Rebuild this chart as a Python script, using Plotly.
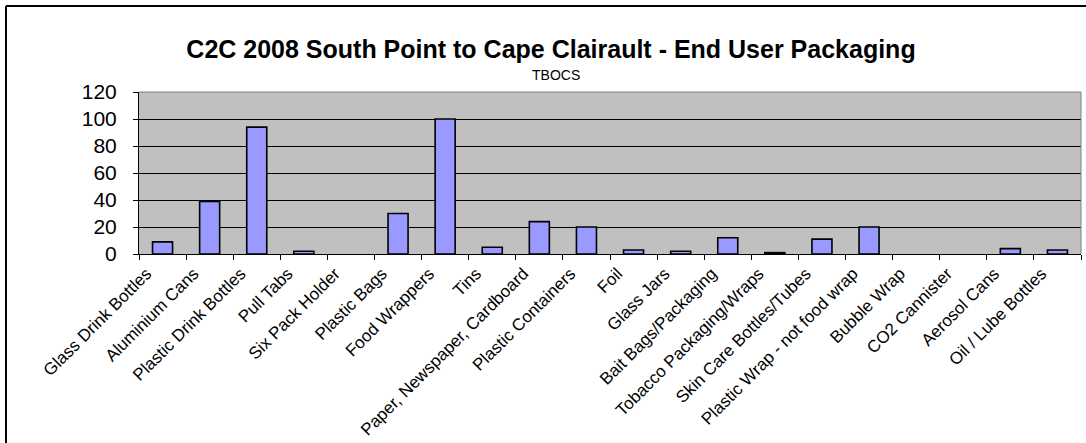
import plotly.graph_objects as go

categories = [
    "Glass Drink Bottles", "Aluminium Cans", "Plastic Drink Bottles", "Pull Tabs",
    "Six Pack Holder", "Plastic Bags", "Food Wrappers", "Tins",
    "Paper, Newspaper, Cardboard", "Plastic Containers", "Foil", "Glass Jars",
    "Bait Bags/Packaging", "Tobacco Packaging/Wraps", "Skin Care Bottles/Tubes",
    "Plastic Wrap - not food wrap", "Bubble Wrap", "CO2 Cannister", "Aerosol Cans",
    "Oil / Lube Bottles",
]
values = [9, 39, 94, 2, 0, 30, 100, 5, 24, 20, 3, 2, 12, 1, 11, 20, 0, 0, 4, 3]

y_ticks = [0, 20, 40, 60, 80, 100, 120]

title_text = "C2C 2008 South Point to Cape Clairault - End User Packaging"
subtitle_text = "TBOCS"

W, H = 1086, 443
L, R, T, B = 139, 5, 92, 189
pw, ph = W - L - R, H - T - B

def px_x(x):
    return (x - L) / pw

def px_y(y):
    return (H - B - y) / ph

FONT = "Liberation Sans, Arial, sans-serif"

# no outline for empty (zero) bars, as in the original
outline_widths = [0 if v == 0 else 1.6 for v in values]

fig = go.Figure(
    go.Bar(
        x=categories,
        y=values,
        marker=dict(color="#9999FF", line=dict(color="black", width=outline_widths)),
        hoverinfo="x+y",
    )
)

fig.update_layout(
    width=W,
    height=H,
    margin=dict(l=L, r=R, t=T, b=B, autoexpand=False),
    paper_bgcolor="white",
    plot_bgcolor="#C0C0C0",
    bargap=0.575,
    showlegend=False,
    font=dict(family=FONT, color="black"),
    title=dict(
        text="<b>" + title_text + "</b>",
        font=dict(size=25, family=FONT, color="black"),
        xref="container",
        yref="container",
        x=551 / W,
        y=1 - 49 / H,
        xanchor="center",
        yanchor="middle",
    ),
    annotations=[
        dict(
            text=subtitle_text,
            xref="paper",
            yref="paper",
            x=px_x(556),
            y=px_y(75),
            xanchor="center",
            yanchor="middle",
            showarrow=False,
            font=dict(size=14, family=FONT, color="black"),
        )
    ],
    shapes=[
        # plot-area frame (top and right, grey)
        dict(type="path", xref="paper", yref="paper",
             path="M 0,1 L 1,1 L 1,0", line=dict(color="#808080", width=1), layer="above"),
        # outer chart frame (top and left)
        dict(type="line", xref="paper", yref="paper",
             x0=px_x(6), x1=px_x(1086), y0=px_y(6), y1=px_y(6),
             line=dict(color="black", width=2)),
        dict(type="line", xref="paper", yref="paper",
             x0=px_x(6), x1=px_x(6), y0=px_y(6), y1=px_y(443),
             line=dict(color="black", width=2)),
    ],
)

fig.update_xaxes(
    type="category",
    tickangle=-45,
    tickson="boundaries",
    ticks="outside",
    ticklen=5,
    tickcolor="black",
    showline=True,
    linecolor="black",
    linewidth=1,
    showgrid=False,
    ticklabelshift=-16,
    ticklabelstandoff=2,
    tickfont=dict(size=17, family=FONT, color="black"),
    automargin=False,
)

fig.update_yaxes(
    range=[0, 120],
    tickvals=y_ticks,
    ticks="outside",
    ticklen=5,
    tickcolor="black",
    showline=True,
    linecolor="black",
    linewidth=1,
    showgrid=True,
    gridcolor="black",
    gridwidth=1,
    zeroline=False,
    ticklabelstandoff=12,
    tickfont=dict(size=21, family=FONT, color="black"),
    automargin=False,
)

fig.write_html(
    "out.html",
    config={"displayModeBar": False},
    post_script="document.body.style.margin='0px';",
)
